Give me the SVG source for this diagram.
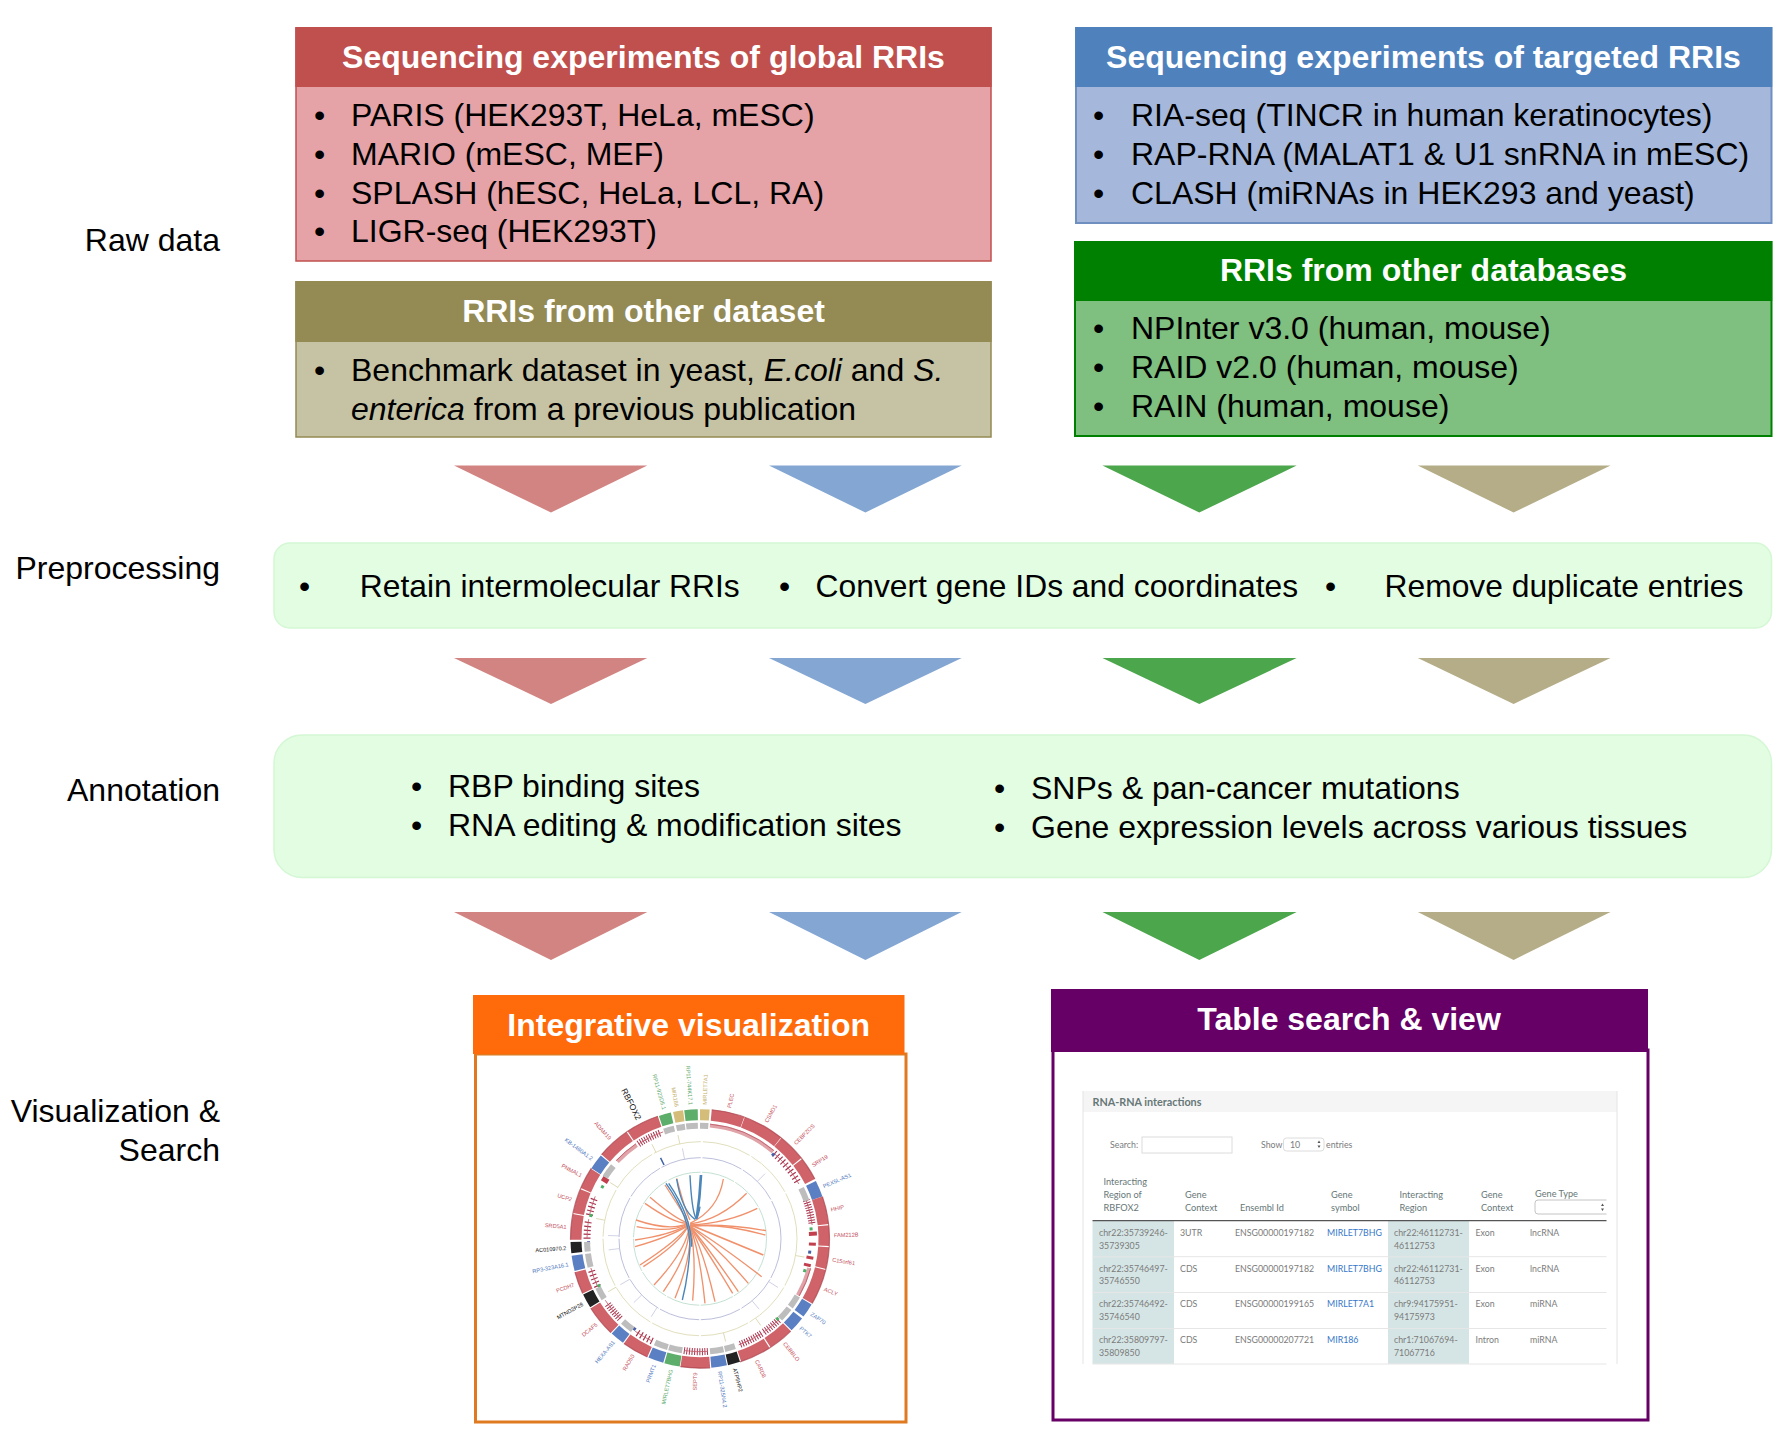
<svg xmlns="http://www.w3.org/2000/svg" width="1791" height="1430" viewBox="0 0 1791 1430">
<defs>
<style>
text{font-family:"Liberation Sans",Arial,sans-serif;fill:#000}
.b{font-size:32px}
.p{font-size:31.800px}
.h{font-size:32px;font-weight:700;fill:#fff;text-anchor:middle}
.l{font-size:32px;text-anchor:end}
.seg,.gt,.tk,.sp,.ring{fill:none}
.seg{stroke-width:11;stroke:#d0636a}
.rim{fill:none;stroke:#a83f48;stroke-width:1.2}
.blue{stroke:#5b7fc3}.green{stroke:#5dad6b}.tan{stroke:#d3bd78}.blk{stroke:#222}
.gt{stroke:#bdbdbd;stroke-width:6}
.tk{stroke:#a8304c;stroke-width:7}
.sp{stroke:#c05a68;stroke-width:.8}
.pk{fill:none;stroke:#e0a3a8;stroke-width:4}
.t5{stroke-dasharray:.6 1.4 .6 1.4 .6 1.4 .6 1.4 .6 360}
.t10{stroke-dasharray:.6 1.4 .6 1.4 .6 1.4 .6 1.4 .6 1.4 .6 1.4 .6 1.4 .6 1.4 .6 1.4 .6 360}
.d8{stroke-dasharray:.5 .8 .5 .8 .5 .8 .5 .8 .5 .8 .5 .8 .5 .8 .5 360}
.d10{stroke-dasharray:.5 .8 .5 .8 .5 .8 .5 .8 .5 .8 .5 .8 .5 .8 .5 .8 .5 .8 .5 360}
.ring{stroke-width:.8;stroke-dasharray:29 1.2}
.lb{font-size:5.600px;fill:#c4505c}
.lbe{text-anchor:end}
.lc-blue{fill:#4f78bd}.lc-green{fill:#5aa86a}.lc-tan{fill:#c4ad68}.lc-blk{fill:#111}
.ch{fill:none;stroke:#f0916c;stroke-width:4}
.cb{fill:none;stroke:#4a86b8;stroke-width:4.200}
.tb{font-family:Lato,"Liberation Sans",sans-serif;font-size:8.800px;fill:#7b7b7b}
.th{font-family:Lato,"Liberation Sans",sans-serif;font-size:9.200px;fill:#667777}
.ln{fill:#3577c9}
.sep{stroke:#e6e6e6;stroke-width:1}
.pl{stroke:#e4e4e4;stroke-width:1}
.box{fill:#fff;stroke:#dcdcdc;stroke-width:1}
</style>
</defs>
<rect width="1791" height="1430" fill="#fff"/>

<g id="stage-labels">
<text class="l" x="220" y="251">Raw data</text>
<text class="l" x="220" y="579">Preprocessing</text>
<text class="l" x="220" y="801">Annotation</text>
<text class="l" x="220" y="1122">Visualization &amp;</text>
<text class="l" x="220" y="1161">Search</text>
</g>

<g id="global-rris">
<rect x="296" y="28" width="695" height="233" fill="#e5a3a8" stroke="#c0504d" stroke-width="1.500"/>
<rect x="295.300" y="27" width="696.400" height="60" fill="#c0504d"/>
<text class="h" x="643.500" y="68">Sequencing experiments of global RRIs</text>
<text class="b" x="314" y="126">•</text><text class="b" x="351" y="126">PARIS (HEK293T, HeLa, mESC)</text>
<text class="b" x="314" y="165">•</text><text class="b" x="351" y="165">MARIO (mESC, MEF)</text>
<text class="b" x="314" y="203.500">•</text><text class="b" x="351" y="203.500">SPLASH (hESC, HeLa, LCL, RA)</text>
<text class="b" x="314" y="242">•</text><text class="b" x="351" y="242">LIGR-seq (HEK293T)</text>
</g>

<g id="other-dataset">
<rect x="296" y="282" width="695" height="155" fill="#c6c3a4" stroke="#948a54" stroke-width="1.500"/>
<rect x="295.300" y="281" width="696.400" height="61" fill="#948a54"/>
<text class="h" x="643.500" y="322">RRIs from other dataset</text>
<text class="b" x="314" y="380.500">•</text><text class="b" x="351" y="380.500">Benchmark dataset in yeast, <tspan font-style="italic">E.coli</tspan> and <tspan font-style="italic">S.</tspan></text>
<text class="b" x="351" y="420"><tspan font-style="italic">enterica</tspan> from a previous publication</text>
</g>

<g id="targeted-rris">
<rect x="1076" y="28" width="695.500" height="195" fill="#a5b8dc" stroke="#6e8fc0" stroke-width="2"/>
<rect x="1075.200" y="27" width="697" height="60" fill="#4f81bd"/>
<text class="h" x="1423.500" y="68">Sequencing experiments of targeted RRIs</text>
<text class="b" x="1093" y="126">•</text><text class="b" x="1131" y="126">RIA-seq (TINCR in human keratinocytes)</text>
<text class="b" x="1093" y="165">•</text><text class="b" x="1131" y="165">RAP-RNA (MALAT1 &amp; U1 snRNA in mESC)</text>
<text class="b" x="1093" y="203.500">•</text><text class="b" x="1131" y="203.500">CLASH (miRNAs in HEK293 and yeast)</text>
</g>

<g id="other-databases">
<rect x="1075" y="242" width="696.500" height="194" fill="#7fbf7f" stroke="#008000" stroke-width="2"/>
<rect x="1074.200" y="241" width="698" height="60" fill="#008000"/>
<text class="h" x="1423.500" y="281">RRIs from other databases</text>
<text class="b" x="1093" y="339">•</text><text class="b" x="1131" y="339">NPInter v3.0 (human, mouse)</text>
<text class="b" x="1093" y="378">•</text><text class="b" x="1131" y="378">RAID v2.0 (human, mouse)</text>
<text class="b" x="1093" y="417">•</text><text class="b" x="1131" y="417">RAIN (human, mouse)</text>
</g>

<g id="connectors">
<g fill="#d18481"><path d="M454 465.500H647.300L551 512.500Z"/><path d="M454 658H647.300L551 704Z"/><path d="M454 912H647.300L551 960Z"/></g>
<g fill="#83a6d3"><path d="M769 465.500H961.700L865.400 512.500Z"/><path d="M769 658H961.700L865.400 704Z"/><path d="M769 912H961.700L865.400 960Z"/></g>
<g fill="#4ca64c"><path d="M1102.400 465.500H1296.700L1199.300 512.500Z"/><path d="M1102.400 658H1296.700L1199.300 704Z"/><path d="M1102.400 912H1296.700L1199.300 960Z"/></g>
<g fill="#b4ad87"><path d="M1417.800 465.500H1610.500L1513.600 512.500Z"/><path d="M1417.800 658H1610.500L1513.600 704Z"/><path d="M1417.800 912H1610.500L1513.600 960Z"/></g>
</g>

<g id="preprocessing">
<rect x="274" y="543" width="1497.500" height="85" rx="16" fill="#e2fde2" stroke="#d4f7d4" stroke-width="1.500"/>
<text class="p" x="299" y="597">•</text><text class="p" x="359.800" y="597">Retain intermolecular RRIs</text>
<text class="p" x="779" y="597">•</text><text class="p" x="815.600" y="597">Convert gene IDs and coordinates</text>
<text class="p" x="1325" y="597">•</text><text class="p" x="1384.500" y="597">Remove duplicate entries</text>
</g>

<g id="annotation">
<rect x="274" y="735" width="1497.500" height="142.500" rx="28" fill="#e2fde2" stroke="#d4f7d4" stroke-width="1.500"/>
<text class="b" x="411" y="797">•</text><text class="b" x="448" y="797">RBP binding sites</text>
<text class="b" x="411" y="836">•</text><text class="b" x="448" y="836">RNA editing &amp; modification sites</text>
<text class="b" x="994" y="799">•</text><text class="b" x="1031" y="799">SNPs &amp; pan-cancer mutations</text>
<text class="b" x="994" y="838">•</text><text class="b" x="1031" y="838">Gene expression levels across various tissues</text>
</g>

<g id="integrative-visualization">
<rect x="475.500" y="1054" width="430.500" height="368" fill="#fff" stroke="#e07a20" stroke-width="3"/>
<rect x="473" y="995" width="431.500" height="59" fill="#ff6a0a"/>
<text class="h" x="688.700" y="1036">Integrative visualization</text>

<g id="circos" transform="translate(700 1238.700)">
<circle class="ring" r="97" pathLength="360" stroke="#d9d5ab"/>
<circle class="ring" r="81" pathLength="360" stroke="#a9afd2"/>
<circle class="ring" r="66.500" pathLength="360" stroke="#b4d9c6"/>
<g fill="none" stroke-width=".8">
<g stroke="#d9d5ab">
<line y1="-97" y2="-106" transform="rotate(281)"/><line y1="-97" y2="-106" transform="rotate(302)"/><line y1="-97" y2="-106" transform="rotate(333)"/><line y1="-97" y2="-106" transform="rotate(100)"/><line y1="-97" y2="-106" transform="rotate(145)"/><line y1="-97" y2="-106" transform="rotate(166)"/><line y1="-97" y2="-106" transform="rotate(240)"/><line y1="-97" y2="-106" transform="rotate(348)"/>
</g>
<g stroke="#c9cbe0">
<line y1="-81" y2="-92" transform="rotate(263)"/><line y1="-81" y2="-92" transform="rotate(272)"/><line y1="-81" y2="-92" transform="rotate(240)"/><line y1="-81" y2="-92" transform="rotate(226)"/><line y1="-81" y2="-92" transform="rotate(212)"/><line y1="-81" y2="-92" transform="rotate(140)"/><line y1="-81" y2="-92" transform="rotate(122)"/><line y1="-81" y2="-92" transform="rotate(45)"/><line y1="-81" y2="-92" transform="rotate(349)"/>
</g>
<line y1="-82" y2="-90" transform="rotate(334)" stroke="#3f62a8" stroke-width="1.500"/>
</g>

<g id="chords" transform="translate(-700 -1238.700) translate(470 990) scale(.33333)">
<path class="ch" d="M760 567Q745 660 660 700"/>
<path class="ch" d="M830 610Q750 690 660 702"/>
<path class="ch" d="M862 655Q770 700 660 705"/>
<path class="ch" d="M888 722Q760 700 660 708"/>
<path class="ch" d="M886 735Q760 700 660 708"/>
<path class="ch" d="M880 795Q760 745 662 705" style="stroke-width:5.500"/>
<path class="ch" d="M875 860Q745 760 660 708"/>
<path class="ch" d="M835 880Q740 770 660 708"/>
<path class="ch" d="M805 905Q720 780 660 708"/>
<path class="ch" d="M788 910Q710 780 660 708"/>
<path class="ch" d="M735 935Q700 780 660 708"/>
<path class="ch" d="M705 940Q690 790 660 708"/>
<path class="ch" d="M668 932Q680 800 660 708"/>
<path class="ch" d="M615 925Q670 790 658 708"/>
<path class="ch" d="M580 905Q660 790 658 708"/>
<path class="ch" d="M552 885Q650 780 658 708"/>
<path class="ch" d="M520 830Q630 760 656 706"/>
<path class="ch" d="M510 825Q625 750 656 706"/>
<path class="ch" d="M495 770Q600 740 656 706"/>
<path class="ch" d="M495 750Q600 735 656 704"/>
<path class="ch" d="M500 710Q600 730 654 702"/>
<path class="ch" d="M498 690Q600 725 654 700"/>
<path class="ch" d="M525 640Q610 700 652 700"/>
<path class="ch" d="M540 622Q620 690 652 698"/>
<path class="ch" d="M585 585Q640 670 655 698"/>
<path class="ch" d="M620 565Q645 660 660 690"/>
<path class="cb" d="M588 580Q660 680 660 770Q655 860 637 930"/>
<path class="cb" d="M596 580Q665 680 665 770"/>
<path class="cb" d="M620 567Q635 660 675 688"/>
<path class="cb" d="M660 556Q665 660 678 686Q685 680 690 650"/>
<path class="cb" d="M693 555Q690 620 680 686" style="stroke-width:8"/>
</g>

<g id="tracks">
<circle class="pk" r="113.500" pathLength="360" stroke-dasharray="35 360" transform="rotate(-85)"/>
<circle class="sp" r="115" pathLength="360" stroke-dasharray="35 360" transform="rotate(-85)"/>
<circle class="pk" r="113" pathLength="360" stroke-dasharray="15 360" transform="rotate(15)"/>
<circle class="sp" r="114.500" pathLength="360" stroke-dasharray="15 360" transform="rotate(15)"/>
<circle class="pk" r="113" pathLength="360" stroke-dasharray="13 360" transform="rotate(223)"/>
<circle class="sp" r="114.500" pathLength="360" stroke-dasharray="13 360" transform="rotate(223)"/>
<circle class="tk t10" r="113" pathLength="360" transform="rotate(-49)"/><circle class="sp" r="113" pathLength="360" stroke-dasharray="20 360" transform="rotate(-49)"/>
<circle class="tk d10" r="113" pathLength="360" transform="rotate(-20)"/><circle class="sp" r="113" pathLength="360" stroke-dasharray="13 360" transform="rotate(-20)"/>
<circle class="tk d8" r="113" pathLength="360" transform="rotate(46)"/><circle class="sp" r="113" pathLength="360" stroke-dasharray="10 360" transform="rotate(46)"/>
<circle class="tk d10" r="113" pathLength="360" transform="rotate(57)"/><circle class="sp" r="113" pathLength="360" stroke-dasharray="13 360" transform="rotate(57)"/>
<circle class="tk d10" r="113" pathLength="360" transform="rotate(86)"/><circle class="sp" r="113" pathLength="360" stroke-dasharray="12 360" transform="rotate(86)"/>
<circle class="tk t5" r="113" pathLength="360" transform="rotate(115)"/><circle class="sp" r="113" pathLength="360" stroke-dasharray="10 360" transform="rotate(115)"/>
<circle class="tk d8" r="113" pathLength="360" transform="rotate(135)"/><circle class="sp" r="113" pathLength="360" stroke-dasharray="12 360" transform="rotate(135)"/>
<circle class="tk t5" r="113" pathLength="360" transform="rotate(155)"/><circle class="sp" r="113" pathLength="360" stroke-dasharray="10 360" transform="rotate(155)"/>
<circle class="tk t5" r="113" pathLength="360" transform="rotate(180)"/><circle class="sp" r="113" pathLength="360" stroke-dasharray="10 360" transform="rotate(180)"/>
<circle class="tk t5" r="113" pathLength="360" transform="rotate(192)"/><circle class="sp" r="113" pathLength="360" stroke-dasharray="10 360" transform="rotate(192)"/>
<circle class="tk d10" r="113" pathLength="360" transform="rotate(237)"/><circle class="sp" r="113" pathLength="360" stroke-dasharray="14 360" transform="rotate(237)"/>
<g fill="#c2404e">
<rect x="109" y="-3" width="8" height="4" transform="rotate(-2)"/>
<rect x="109" y="-2" width="7" height="3" transform="rotate(3)"/>
<rect x="108" y="-2" width="7" height="3" transform="rotate(10)"/>
<rect x="107" y="-2" width="7" height="3" transform="rotate(14)"/>
<rect x="108" y="-3" width="7" height="5" transform="rotate(212)"/>
</g>
<g fill="#4caf65">
<rect x="110" y="-1.500" width="3" height="3" transform="rotate(-5)"/>
<rect x="108" y="-1.500" width="3" height="3" transform="rotate(17)"/>
<rect x="109" y="-1.500" width="3" height="3" transform="rotate(208)"/>
<rect x="110" y="-1.500" width="3" height="3" transform="rotate(192)"/>
<rect x="110" y="-1.500" width="3" height="3" transform="rotate(155)"/>
<rect x="110" y="-1.500" width="3" height="3" transform="rotate(46)"/>
</g>
<g fill="#4560a8">
<rect x="109" y="-1.500" width="3" height="3" transform="rotate(7)"/>
<rect x="110" y="-1.500" width="3" height="3" transform="rotate(-49)"/>
<rect x="110" y="-1.500" width="3" height="3" transform="rotate(178)"/>
<rect x="110" y="-1.500" width="3" height="3" transform="rotate(126)"/>
</g>
</g>

<g id="seg-MIRLET7A1"><circle class="seg tan" r="124" pathLength="360" stroke-dasharray="4.300 360" transform="rotate(-90)"/><circle class="gt" r="113" pathLength="360" stroke-dasharray="4.300 360" transform="rotate(-90)"/><text class="lb lc-tan" dy=".35em" transform="rotate(-88) translate(134 0)">MIRLET7A1</text></g>
<g id="seg-PLEC"><circle class="seg" r="124" pathLength="360" stroke-dasharray="14.800 360" transform="rotate(-84.800)"/><text class="lb" dy=".35em" transform="rotate(-77.500) translate(134 0)">PLEC</text></g>
<g id="seg-CSMD1"><circle class="seg" r="124" pathLength="360" stroke-dasharray="18.500 360" transform="rotate(-69.800)"/><text class="lb" dy=".35em" transform="rotate(-60.500) translate(134 0)">CSMD1</text></g>
<g id="seg-CEBPZOS"><circle class="seg" r="124" pathLength="360" stroke-dasharray="12.600 360" transform="rotate(-51.100)"/><text class="lb" dy=".35em" transform="rotate(-45) translate(134 0)">CEBPZOS</text></g>
<g id="seg-SRP19"><circle class="seg" r="124" pathLength="360" stroke-dasharray="10.500 360" transform="rotate(-38)"/><text class="lb" dy=".35em" transform="rotate(-33) translate(134 0)">SRP19</text></g>
<g id="seg-PEX5L-AS1"><circle class="seg blue" r="124" pathLength="360" stroke-dasharray="7.500 360" transform="rotate(-26.500)"/><circle class="gt" r="113" pathLength="360" stroke-dasharray="7 360" transform="rotate(-26.500)"/><text class="lb lc-blue" dy=".35em" transform="rotate(-23) translate(134 0)">PEX5L-AS1</text></g>
<g id="seg-HHIP"><circle class="seg" r="124" pathLength="360" stroke-dasharray="12.500 360" transform="rotate(-19)"/><text class="lb" dy=".35em" transform="rotate(-12.500) translate(134 0)">HHIP</text></g>
<g id="seg-FAM212B"><circle class="seg" r="124" pathLength="360" stroke-dasharray="9.300 360" transform="rotate(-6)"/><text class="lb" dy=".35em" transform="rotate(-1.500) translate(134 0)">FAM212B</text></g>
<g id="seg-C15orf61"><circle class="seg" r="124" pathLength="360" stroke-dasharray="9.700 360" transform="rotate(3.800)"/><text class="lb" dy=".35em" transform="rotate(9) translate(134 0)">C15orf61</text></g>
<g id="seg-ACLY"><circle class="seg" r="124" pathLength="360" stroke-dasharray="16 360" transform="rotate(14)"/><text class="lb" dy=".35em" transform="rotate(22) translate(134 0)">ACLY</text></g>
<g id="seg-ZAP70"><circle class="seg blue" r="124" pathLength="360" stroke-dasharray="6.500 360" transform="rotate(30.500)"/><circle class="gt" r="113" pathLength="360" stroke-dasharray="6.500 360" transform="rotate(30.500)"/><text class="lb lc-blue" dy=".35em" transform="rotate(34) translate(134 0)">ZAP70</text></g>
<g id="seg-PTK7"><circle class="seg blue" r="124" pathLength="360" stroke-dasharray="7 360" transform="rotate(38)"/><circle class="gt" r="113" pathLength="360" stroke-dasharray="7 360" transform="rotate(38)"/><text class="lb lc-blue" dy=".35em" transform="rotate(41.500) translate(134 0)">PTK7</text></g>
<g id="seg-CEBBLO"><circle class="seg" r="124" pathLength="360" stroke-dasharray="11.500 360" transform="rotate(45.500)"/><text class="lb" dy=".35em" transform="rotate(51) translate(134 0)">CEBBLO</text></g>
<g id="seg-CARD8"><circle class="seg" r="124" pathLength="360" stroke-dasharray="14 360" transform="rotate(57.500)"/><text class="lb" dy=".35em" transform="rotate(65) translate(134 0)">CARD8</text></g>
<g id="seg-ATP5HP2"><circle class="seg blk" r="124" pathLength="360" stroke-dasharray="5.500 360" transform="rotate(72)"/><circle class="gt" r="113" pathLength="360" stroke-dasharray="5.500 360" transform="rotate(72)"/><text class="lb lc-blk" dy=".35em" transform="rotate(75) translate(134 0)">ATP5HP2</text></g>
<g id="seg-RP11-325N4.2"><circle class="seg blue" r="124" pathLength="360" stroke-dasharray="7 360" transform="rotate(78)"/><circle class="gt" r="113" pathLength="360" stroke-dasharray="7 360" transform="rotate(78)"/><text class="lb lc-blue" dy=".35em" transform="rotate(81.500) translate(134 0)">RP11-325N4.2</text></g>
<g id="seg-SEPT9"><circle class="seg" r="124" pathLength="360" stroke-dasharray="13.200 360" transform="rotate(85.500)"/><text class="lb lbe" dy=".35em" transform="rotate(272) translate(-134 0)">SEPT9</text></g>
<g id="seg-MIRLET7BHG"><circle class="seg green" r="124" pathLength="360" stroke-dasharray="7 360" transform="rotate(99)"/><circle class="gt" r="113" pathLength="360" stroke-dasharray="7 360" transform="rotate(99)"/><text class="lb lbe lc-green" dy=".35em" transform="rotate(282.500) translate(-134 0)">MIRLET7BHG</text></g>
<g id="seg-PRMT1"><circle class="seg blue" r="124" pathLength="360" stroke-dasharray="7 360" transform="rotate(106.500)"/><circle class="gt" r="113" pathLength="360" stroke-dasharray="7 360" transform="rotate(106.500)"/><text class="lb lbe lc-blue" dy=".35em" transform="rotate(290) translate(-134 0)">PRMT1</text></g>
<g id="seg-RAD50"><circle class="seg" r="124" pathLength="360" stroke-dasharray="12 360" transform="rotate(114)"/><text class="lb lbe" dy=".35em" transform="rotate(300) translate(-134 0)">RAD50</text></g>
<g id="seg-HEXA-AS1"><circle class="seg blue" r="124" pathLength="360" stroke-dasharray="6.500 360" transform="rotate(126.500)"/><circle class="gt" r="113" pathLength="360" stroke-dasharray="6.500 360" transform="rotate(126.500)"/><text class="lb lbe lc-blue" dy=".35em" transform="rotate(310) translate(-134 0)">HEXA-AS1</text></g>
<g id="seg-DCAF5"><circle class="seg" r="124" pathLength="360" stroke-dasharray="14 360" transform="rotate(133.500)"/><text class="lb lbe" dy=".35em" transform="rotate(320.500) translate(-134 0)">DCAF5</text></g>
<g id="seg-MTND2P28"><circle class="seg blk" r="124" pathLength="360" stroke-dasharray="6.500 360" transform="rotate(148)"/><circle class="gt" r="113" pathLength="360" stroke-dasharray="6.500 360" transform="rotate(148)"/><text class="lb lbe lc-blk" dy=".35em" transform="rotate(331) translate(-134 0)">MTND2P28</text></g>
<g id="seg-PCDH7"><circle class="seg" r="124" pathLength="360" stroke-dasharray="10 360" transform="rotate(155)"/><text class="lb lbe" dy=".35em" transform="rotate(340) translate(-134 0)">PCDH7</text></g>
<g id="seg-RP3-323A16.1"><circle class="seg blue" r="124" pathLength="360" stroke-dasharray="7 360" transform="rotate(165.500)"/><circle class="gt" r="113" pathLength="360" stroke-dasharray="7 360" transform="rotate(165.500)"/><text class="lb lbe lc-blue" dy=".35em" transform="rotate(349) translate(-134 0)">RP3-323A16.1</text></g>
<g id="seg-AC010970.2"><circle class="seg blk" r="124" pathLength="360" stroke-dasharray="5 360" transform="rotate(173.500)"/><circle class="gt" r="113" pathLength="360" stroke-dasharray="5 360" transform="rotate(173.500)"/><text class="lb lbe lc-blk" dy=".35em" transform="rotate(356) translate(-134 0)">AC010970.2</text></g>
<g id="seg-SRD5A1"><circle class="seg" r="124" pathLength="360" stroke-dasharray="11.500 360" transform="rotate(179.500)"/><text class="lb lbe" dy=".35em" transform="rotate(5) translate(-134 0)">SRD5A1</text></g>
<g id="seg-UCP2"><circle class="seg" r="124" pathLength="360" stroke-dasharray="11 360" transform="rotate(191.500)"/><text class="lb lbe" dy=".35em" transform="rotate(17) translate(-134 0)">UCP2</text></g>
<g id="seg-PNMAL1"><circle class="seg" r="124" pathLength="360" stroke-dasharray="9.700 360" transform="rotate(203)"/><text class="lb lbe" dy=".35em" transform="rotate(28) translate(-134 0)">PNMAL1</text></g>
<g id="seg-KB-1460A1.2"><circle class="seg blue" r="124" pathLength="360" stroke-dasharray="7 360" transform="rotate(213)"/><circle class="gt" r="113" pathLength="360" stroke-dasharray="7 360" transform="rotate(213)"/><text class="lb lbe lc-blue" dy=".35em" transform="rotate(36.500) translate(-134 0)">KB-1460A1.2</text></g>
<g id="seg-ADAM19"><circle class="seg" r="124" pathLength="360" stroke-dasharray="15 360" transform="rotate(220.500)"/><text class="lb lbe" dy=".35em" transform="rotate(48) translate(-134 0)">ADAM19</text></g>
<g id="seg-RBFOX2"><circle class="seg" r="124" pathLength="360" stroke-dasharray="15 360" transform="rotate(236)"/><text class="lb lbe lc-blk" dy=".35em" style="font-size:8.500px" transform="rotate(63) translate(-134 0)">RBFOX2</text></g>
<g id="seg-RP11-923D5.1"><circle class="seg green" r="124" pathLength="360" stroke-dasharray="5.500 360" transform="rotate(251.500)"/><circle class="gt" r="113" pathLength="360" stroke-dasharray="5.500 360" transform="rotate(251.500)"/><text class="lb lbe lc-green" dy=".35em" transform="rotate(74.500) translate(-134 0)">RP11-923D5.1</text></g>
<g id="seg-MIR186"><circle class="seg tan" r="124" pathLength="360" stroke-dasharray="4.500 360" transform="rotate(258)"/><circle class="gt" r="113" pathLength="360" stroke-dasharray="4.500 360" transform="rotate(258)"/><text class="lb lbe lc-tan" dy=".35em" transform="rotate(80) translate(-134 0)">MIR186</text></g>
<g id="seg-RP11-744K17.1"><circle class="seg green" r="124" pathLength="360" stroke-dasharray="6 360" transform="rotate(263)"/><circle class="gt" r="113" pathLength="360" stroke-dasharray="6 360" transform="rotate(263)"/><text class="lb lbe lc-green" dy=".35em" transform="rotate(86) translate(-134 0)">RP11-744K17.1</text></g>
<circle class="rim" r="129.500" pathLength="360" stroke-dasharray="0 5.200 57.300 8.500 49 15.500 26.500 13.500 13.200 15.300 12 7.500 14 7.500 10 14.500 33.500 7.500 30.500 19" transform="rotate(-90)" stroke-opacity=".7"/>
</g>
</g>

<g id="table-search-view">
<rect x="1053" y="1050" width="595" height="370" fill="#fff" stroke="#660066" stroke-width="3"/>
<rect x="1051" y="989" width="597" height="63" fill="#660066"/>
<text class="h" x="1349" y="1030">Table search &amp; view</text>

<g id="table-panel">
<rect x="1083" y="1091" width="534" height="21" fill="#f5f5f5"/>
<path class="pl" d="M1083 1091V1364M1617 1091V1364" fill="none"/>
<text x="1092.500" y="1105.500" style="font-family:Lato,'Liberation Sans',sans-serif;font-size:10.800px;font-weight:700;fill:#667777">RNA-RNA interactions</text>
<text class="tb" x="1110" y="1148">Search:</text>
<rect class="box" x="1142" y="1137" width="90" height="16"/>
<text class="tb" x="1261" y="1148">Show</text>
<rect class="box" x="1283.500" y="1138" width="40.500" height="13" rx="3" stroke="#c4c4c4"/>
<text class="tb" x="1290" y="1148">10</text>
<path d="M1317.500 1143l1.500-2.500 1.500 2.500zM1317.500 1145.500l1.500 2.500 1.500-2.500z" fill="#555"/>
<text class="tb" x="1326" y="1148">entries</text>

<text class="th" x="1103.500" y="1185">Interacting</text><text class="th" x="1103.500" y="1198">Region of</text><text class="th" x="1103.500" y="1211">RBFOX2</text>
<text class="th" x="1185" y="1198">Gene</text><text class="th" x="1185" y="1211">Context</text>
<text class="th" x="1240" y="1211">Ensembl Id</text>
<text class="th" x="1331" y="1198">Gene</text><text class="th" x="1331" y="1211">symbol</text>
<text class="th" x="1399.500" y="1198">Interacting</text><text class="th" x="1399.500" y="1211">Region</text>
<text class="th" x="1481" y="1198">Gene</text><text class="th" x="1481" y="1211">Context</text>
<text class="th" x="1535" y="1197">Gene Type</text>
<path d="M1606.500 1200H1538a3 3 0 0 0-3 3V1211a3 3 0 0 0 3 3H1606.500" fill="#fff" stroke="#c4c4c4"/>
<path d="M1601 1206l1.500-2.500 1.500 2.500zM1601 1208.500l1.500 2.500 1.500-2.500z" fill="#555"/>

<rect x="1092.500" y="1221" width="81.500" height="143" fill="#d5e5e5"/>
<rect x="1388" y="1221" width="81" height="143" fill="#d5e5e5"/>
<path d="M1092.500 1220.700H1606.500" stroke="#555" stroke-width="1.300"/>
<path class="sep" d="M1092.500 1256.700H1606.500M1092.500 1292.500H1606.500M1092.500 1328.500H1606.500M1092.500 1364H1606.500" fill="none"/>

<text class="tb" x="1099" y="1236">chr22:35739246-</text><text class="tb" x="1099" y="1248.500">35739305</text>
<text class="tb" x="1180" y="1236">3UTR</text><text class="tb" x="1235" y="1236">ENSG00000197182</text><text class="tb ln" x="1327" y="1236">MIRLET7BHG</text>
<text class="tb" x="1394" y="1236">chr22:46112731-</text><text class="tb" x="1394" y="1248.500">46112753</text>
<text class="tb" x="1475.500" y="1236">Exon</text><text class="tb" x="1530" y="1236">lncRNA</text>

<text class="tb" x="1099" y="1271.500">chr22:35746497-</text><text class="tb" x="1099" y="1284">35746550</text>
<text class="tb" x="1180" y="1271.500">CDS</text><text class="tb" x="1235" y="1271.500">ENSG00000197182</text><text class="tb ln" x="1327" y="1271.500">MIRLET7BHG</text>
<text class="tb" x="1394" y="1271.500">chr22:46112731-</text><text class="tb" x="1394" y="1284">46112753</text>
<text class="tb" x="1475.500" y="1271.500">Exon</text><text class="tb" x="1530" y="1271.500">lncRNA</text>

<text class="tb" x="1099" y="1307">chr22:35746492-</text><text class="tb" x="1099" y="1319.500">35746540</text>
<text class="tb" x="1180" y="1307">CDS</text><text class="tb" x="1235" y="1307">ENSG00000199165</text><text class="tb ln" x="1327" y="1307">MIRLET7A1</text>
<text class="tb" x="1394" y="1307">chr9:94175951-</text><text class="tb" x="1394" y="1319.500">94175973</text>
<text class="tb" x="1475.500" y="1307">Exon</text><text class="tb" x="1530" y="1307">miRNA</text>

<text class="tb" x="1099" y="1343">chr22:35809797-</text><text class="tb" x="1099" y="1355.500">35809850</text>
<text class="tb" x="1180" y="1343">CDS</text><text class="tb" x="1235" y="1343">ENSG00000207721</text><text class="tb ln" x="1327" y="1343">MIR186</text>
<text class="tb" x="1394" y="1343">chr1:71067694-</text><text class="tb" x="1394" y="1355.500">71067716</text>
<text class="tb" x="1475.500" y="1343">Intron</text><text class="tb" x="1530" y="1343">miRNA</text>
</g>
</g>
</svg>
